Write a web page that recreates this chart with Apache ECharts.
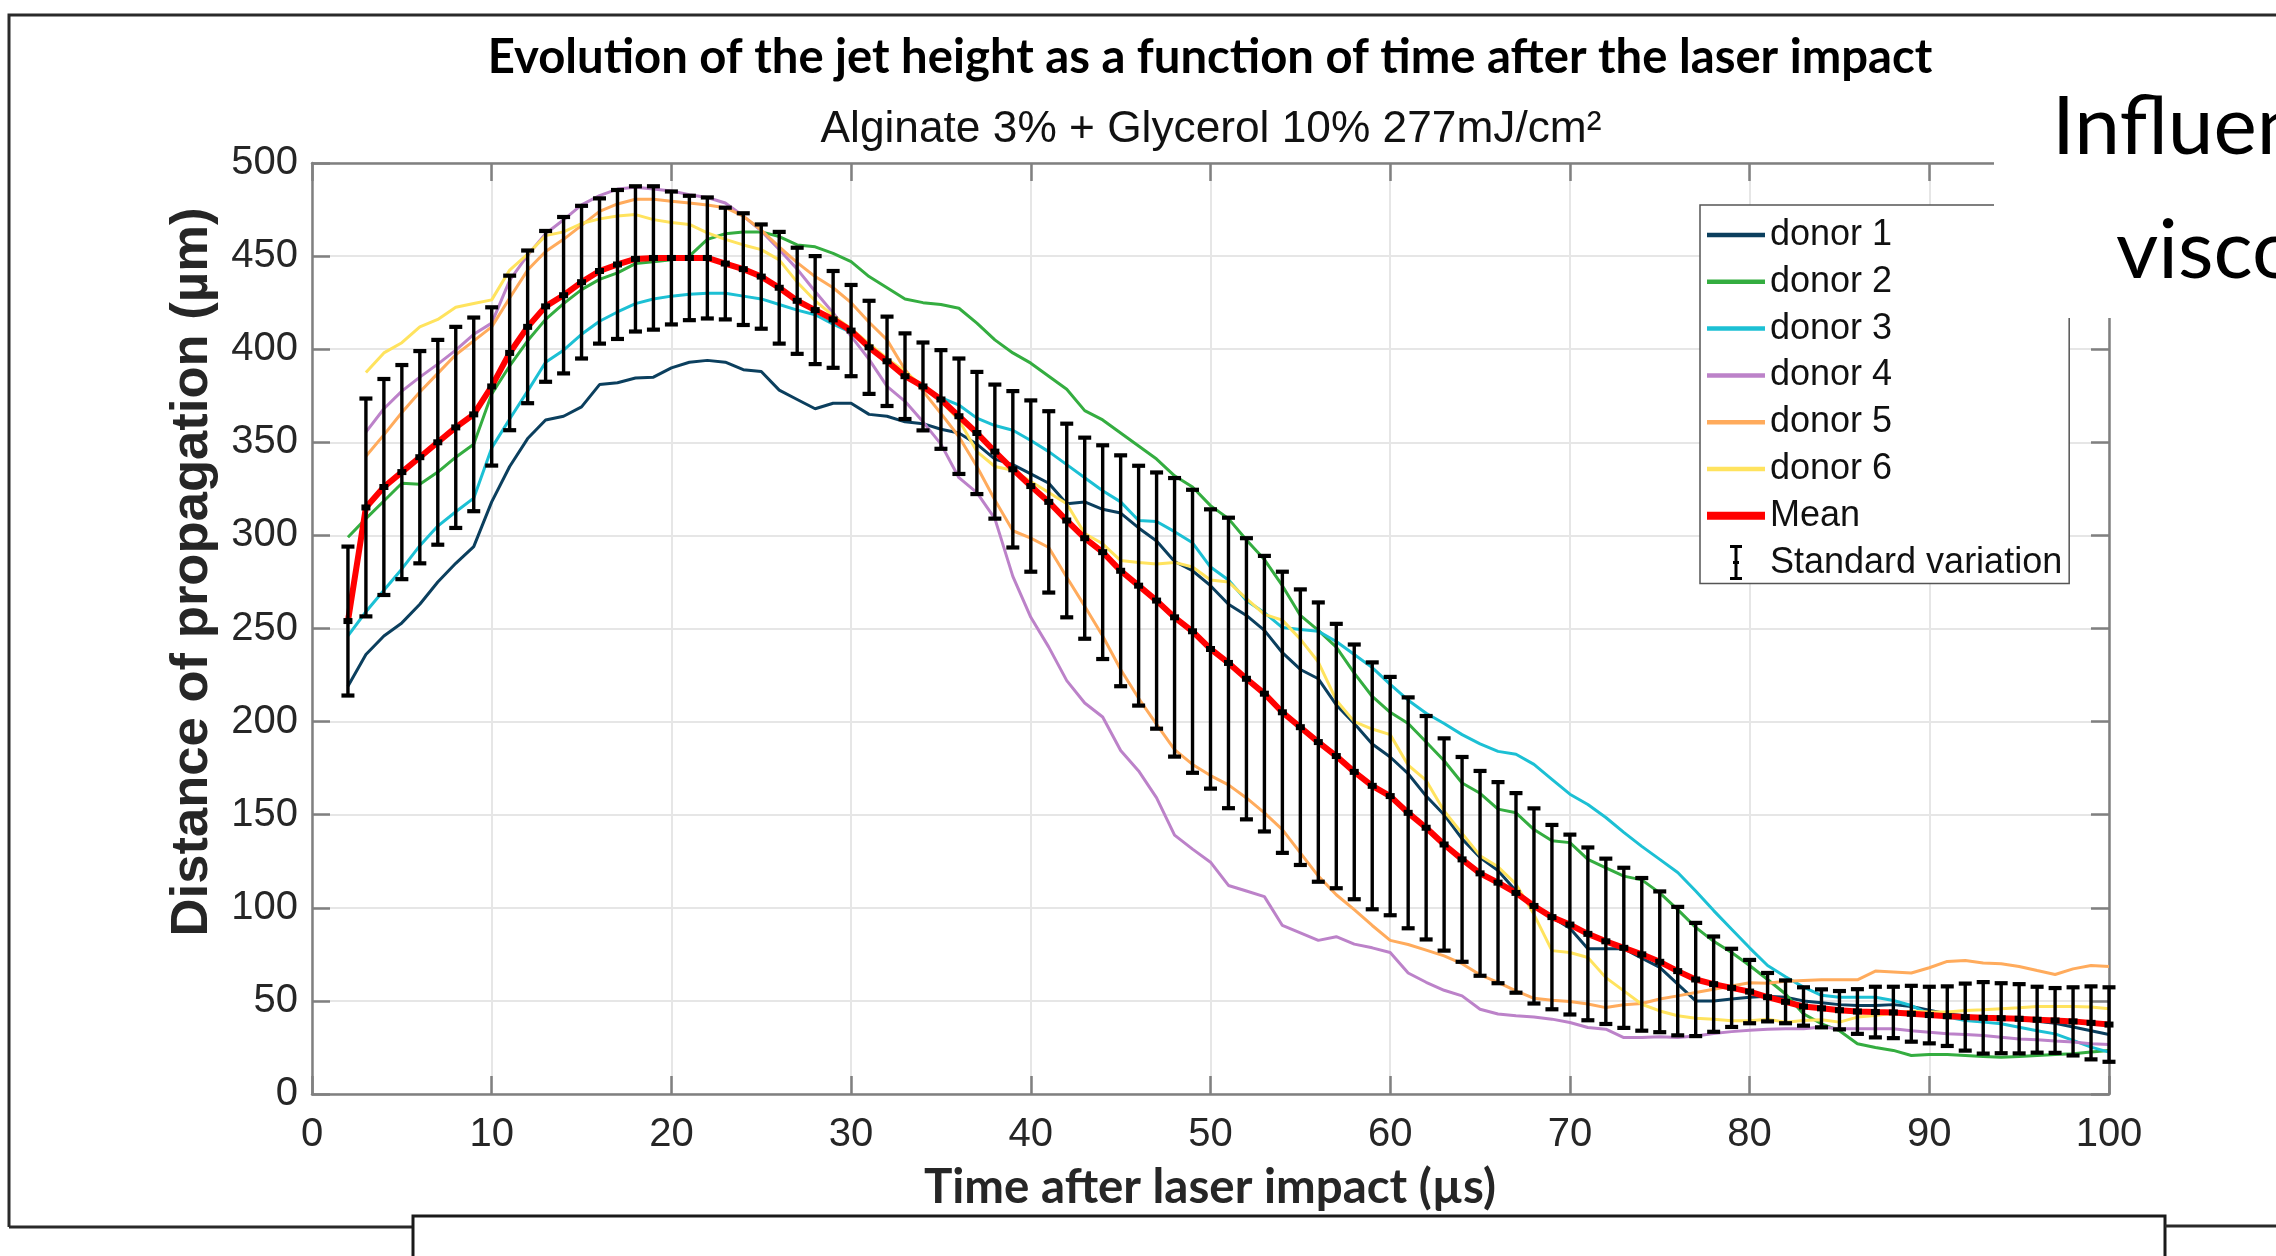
<!DOCTYPE html>
<html>
<head>
<meta charset="utf-8">
<script src="https://cdn.jsdelivr.net/npm/echarts@6/dist/echarts.min.js"></script>
<style>
html,body{margin:0;padding:0;background:#fff;}
#chart{width:2276px;height:1256px;}
</style>
</head>
<body>
<div id="chart"></div>
<script>
var titleText = 'Evolution of the jet height as a function of time after the laser impact';
var subtitleText = 'Alginate 3% + Glycerol 10% 277mJ/cm²';
var xAxisName = 'Time after laser impact (µs)';
var yAxisName = 'Distance of propagation (µm)';
var sideLine1 = 'Influence';
var sideLine2 = 'viscosity';
var xTicks = [0,10,20,30,40,50,60,70,80,90,100];
var yTicks = [0,50,100,150,200,250,300,350,400,450,500];

var times = [2,3,4,5,6,7,8,9,10,11,12,13,14,15,16,17,18,19,20,21,22,23,24,25,26,27,28,29,30,31,32,33,34,35,36,37,38,39,40,41,42,43,44,45,46,47,48,49,50,51,52,53,54,55,56,57,58,59,60,61,62,63,64,65,66,67,68,69,70,71,72,73,74,75,76,77,78,79,80,81,82,83,84,85,86,87,88,89,90,91,92,93,94,95,96,97,98,99,100];

var donor1 = [219,236,246,253,263,275,285,294,318,337,
352,362,364,369,381,382,384.5,385,390,393,
394,393,389,388,378,373,368,371,371,365,
364,361,360,357,355,349,341,338,333,328,
317,318,314,312,304,297,286,281,273,263,
257,249,237,228,223,209,199,188,181,172,
160,150,137,127,120,109,101,95,89,78,
78,78,73,68,59,50,50,51,52,52.5,
52,50,49,48,47.5,47.5,48,47,45,43,
42,41,40.5,40,39,38,36,34,32];

var donor2 = [299,309,318.5,328,327.5,334,342,349,376,391,
404.5,416,424.5,432,437.5,441,446,447,448,450,
459,462,463,463,460.5,456,455,451.5,447,439,
433,427,425,424,422,414,405,398,392.5,385.5,
378.5,367,362,355,348,341,332,326,316,309,
297.5,287,273,257,249,240,226,213.5,205,199,
189,179,167,161.5,153,151,142,136,135,126,
121.5,117,115,108,99,89.5,82,76,69,61.5,
53.7,43,37.7,34,27,25,23.4,20.7,21.2,21.2,
20.7,20.2,19.8,20.2,20.7,21.2,21.6,22.5,23.4];

var donor3 = [246,259,270.5,282,294.5,305,312.7,320,347,362.5,
377.5,393,399.5,408,415,420,424.5,427,428.5,429.5,
430,430,428.5,427,424,421,418.5,413.5,409,402.5,
394.5,386,380,374,370,363,359,356.5,351,345,
338,331,324,318,308,307.5,302,296,283,276,
265,258.5,250.5,249.5,248.5,243,236,229,220,211.5,
204.5,199,193,188,184,182.5,177,169,161,155.5,
148.5,140.5,133,126,119,109,98.5,88.5,78.5,69,
63,57.4,53,52,52,52,50.2,47.5,43,41.3,
39.5,38.6,37.7,35.9,34,32.3,28.8,25.2,22.5];

var donor4 = [null,355.5,368,377.5,385,392,399.5,408,414,437,
450.5,462,469.5,477.5,482.5,486,487,486,485,483,
481.5,478.5,471.5,463.5,453.5,443,431,419.5,407,394.5,
380,372,361,349,331,323,309,278,256,240,
222,210,202.5,184.5,173.5,159,139,131.5,124.5,112,
109,106,90.5,86.5,82.5,84.5,80.5,78.5,76,65,
60,55.7,52.7,45.5,43,42,41.4,40.2,38.4,35.7,
34.8,30.3,30.3,30.7,30.3,31.2,32.5,33.5,34.3,34.8,
35,35,36,35,35,35,35,34,33.2,32.3,
32,31.4,30.5,29.6,29.1,28.4,27.9,27,26.6];

var donor5 = [null,342.5,354,366,377,387,397,404.5,412,427.5,
442.5,452.5,459,466.5,474,478,480.5,480.5,479.5,478.5,
477.5,476,471.5,464,455,446.5,439,433,425,414.5,
405,389,377.5,365.5,353,337,319,302.5,298.5,293.5,
277.5,262,246,228,212.5,198.5,185,177,171,166,
159,151,142,129.5,117,107,99,90.5,82.5,80.3,
77.3,74.2,70,64,60,55.4,51.4,50.4,49.7,48.3,
46.4,47.9,48.6,51,52.7,54.5,56.3,58,59.8,59.5,
60.5,61,61.3,61.3,61.3,66,65.5,65,67.8,71.2,
71.7,70.3,70,68.5,66.3,64.2,67.2,69,68.5];

var donor6 = [null,387.5,398,403.5,412,416,422.5,424.5,426.5,442.5,
451,461,463,467.5,470,471.5,472.3,469.6,468,467,
462.5,459,456,453.5,448,436,426,418,411,403,
395,388,380,372,362,345,337,335,329,323,
317,301,295.5,286.5,285.5,284.6,285.5,283,276,275,
266,257.6,254.5,244.3,232,211.5,200,196,193,176.6,
168.4,152,140,128,122,112.7,96.5,77,76,73.3,
62.5,55.4,48.2,44.6,42,40.7,40.2,39.3,39.3,40.2,
38.5,39.5,39.9,38.6,41.3,42.2,43.4,44.5,44,44,
44.9,45.2,45.8,46.3,47,47,47,46.7,45.8];

var meanValues = [254,315,326,334,342,350,358,365,380,398,
412,423,429,436,442,445.5,448.5,449,449,449,
449,446,443,439,433,426,421,416,410,401,
393.5,385.5,380,373,364,355,345,335.5,326.5,318,
308,298.5,291,281,273,265,256,248.5,239,231.5,
223,215,205,197,189,181.5,173,165.5,160,151,
143,134,126,118.5,113.5,108,101,95,91,86,
82,78.5,75,71,66,61.5,59,57,55,52,
49.5,47,46,45,44.3,44,43.8,43.1,42.4,41.8,
41.3,40.9,40.7,40.4,39.9,39.5,39,38.2,37.3];

var stdValues = [40,58.5,58,57.5,57,55,54,52,42.5,41.5,
41,40.5,42,41,39,40,39,38.5,35.7,33.4,
32.5,30,30,28,30,28.5,29,26,24.5,25,
24,23,23.6,26.5,31,32.8,36,42,46,48.7,
52,54,57.4,62,64.4,68.8,74.8,76,75,78,
75.5,74,75.5,74,75,71,68.4,66.3,64,62,
60,57,55,55,54,53.6,52.4,49.5,48.3,46.4,
44.4,43,41,37.8,34.5,30.4,25.6,21,17,13,
11.5,10.3,10.2,10.3,12,13.6,13.8,15,15.2,16,
18,19.2,18.8,18.6,17.7,17.4,18.3,19.6,20];

var donorNames = ['donor 1','donor 2','donor 3','donor 4','donor 5','donor 6'];
var donorColors = ['#0b3f5e','#34ad40','#1cc0d4','#bc82c9','#ffab5c','#ffe35e'];
var donorData = [donor1, donor2, donor3, donor4, donor5, donor6];

function pairs(vals){
  var out = [];
  for (var i = 0; i < times.length; i++) {
    if (vals[i] !== null && vals[i] !== undefined) out.push([times[i], vals[i]]);
  }
  return out;
}
function fitSize(text, weight, family, target){
  var c = document.createElement('canvas').getContext('2d');
  c.font = weight + ' 100px ' + family;
  return 100 * target / c.measureText(text).width;
}

var errData = [];
for (var i = 0; i < times.length; i++) {
  errData.push([times[i], meanValues[i] - stdValues[i], meanValues[i] + stdValues[i], meanValues[i]]);
}

var FONT_AX = '"Liberation Sans", Arial, sans-serif';
var FONT_CAL = 'Lato, "Noto Sans", sans-serif';

var series = [];
for (var d = 0; d < 6; d++) {
  series.push({
    name: donorNames[d], type: 'line', data: pairs(donorData[d]),
    symbol: 'none', showSymbol: false, z: 2,
    lineStyle: {color: donorColors[d], width: 3},
    itemStyle: {color: donorColors[d]}
  });
}
series.push({
  name: 'Mean', type: 'line', data: pairs(meanValues),
  symbol: 'none', showSymbol: false, z: 3,
  lineStyle: {color: '#ff0000', width: 6},
  itemStyle: {color: '#ff0000'}
});
series.push({
  name: 'Standard variation', type: 'custom', z: 4,
  itemStyle: {color: '#000'},
  data: errData,
  encode: {x: 0, y: [1, 2]},
  renderItem: function(params, api){
    var x = api.value(0);
    var lo = api.coord([x, api.value(1)]);
    var hi = api.coord([x, api.value(2)]);
    var mid = api.coord([x, api.value(3)]);
    var cw = 6.5;
    var st = {stroke: '#000', lineWidth: 3.4};
    var cst = {stroke: '#000', lineWidth: 4.2};
    return {type: 'group', children: [
      {type: 'line', shape: {x1: hi[0], y1: hi[1], x2: lo[0], y2: lo[1]}, style: st},
      {type: 'line', shape: {x1: hi[0]-cw, y1: hi[1], x2: hi[0]+cw, y2: hi[1]}, style: cst},
      {type: 'line', shape: {x1: lo[0]-cw, y1: lo[1], x2: lo[0]+cw, y2: lo[1]}, style: cst},
      {type: 'rect', shape: {x: mid[0]-4.5, y: mid[1]-3, width: 9, height: 6}, style: {fill: '#000'}}
    ]};
  }
});

var axisCommon = {
  type: 'value', min: 0,
  axisLine: {show: true, onZero: false, lineStyle: {color: '#808080', width: 2.5}},
  axisTick: {show: true, inside: true, length: 18, lineStyle: {color: '#808080', width: 2.5}},
};
var tickLabel = {fontSize: 40, color: '#262626', fontFamily: FONT_AX};

var titleSize = fitSize(titleText, 'bold', FONT_CAL, 1445);
var subSize = fitSize(subtitleText, 'normal', FONT_AX, 781);
var xNameSize = fitSize(xAxisName, 'bold', FONT_CAL, 572);
var yNameSize = fitSize(yAxisName, 'bold', FONT_AX, 729);

var lineIcon = 'path://M0,0H58V4.5H0Z';
var meanIcon = 'path://M0,0H58V8H0Z';
var legendData = donorNames.map(function(n){ return {name: n, icon: lineIcon}; });
legendData.push({name: 'Mean', icon: meanIcon});
legendData.push({name: 'Standard variation', icon: 'path://M0,0H12V3H7.5V16H9V19H7.5V32H12V35H0V32H4.5V19H3V16H4.5V3H0Z'});

var option = {
  animation: false,
  backgroundColor: '#ffffff',
  grid: {left: 312, top: 163, width: 1797, height: 931, containLabel: false},
  xAxis: [
    Object.assign({}, axisCommon, {max: 100, interval: 10, position: 'bottom',
      axisLabel: Object.assign({margin: 21, formatter: function(v){ return xTicks.indexOf(v) >= 0 ? String(v) : ''; }}, tickLabel),
      splitLine: {show: true, lineStyle: {color: '#e6e6e6', width: 2}}}),
    Object.assign({}, axisCommon, {max: 100, interval: 10, position: 'top',
      axisLabel: {show: false}, splitLine: {show: false}})
  ],
  yAxis: [
    Object.assign({}, axisCommon, {max: 500, interval: 50, position: 'left',
      axisLabel: Object.assign({margin: 14, formatter: function(v){ return yTicks.indexOf(v) >= 0 ? String(v) : ''; }}, tickLabel),
      splitLine: {show: true, lineStyle: {color: '#e6e6e6', width: 2}}}),
    Object.assign({}, axisCommon, {max: 500, interval: 50, position: 'right',
      axisLabel: {show: false}, splitLine: {show: false}})
  ],
  legend: {
    orient: 'vertical', left: 1700, top: 205,
    padding: [12, 7, 3, 7],
    itemWidth: 58, itemHeight: 35, itemGap: 10.8,
    selectedMode: false,
    backgroundColor: '#ffffff',
    borderColor: '#555555', borderWidth: 1.5, borderRadius: 0,
    textStyle: {fontSize: 36, fontFamily: FONT_AX, color: '#111', padding: [0,0,0,0]},
    data: legendData
  },
  series: series,
  graphic: {elements: [
    {type: 'polyline', z: 50, shape: {points: [[9,1227],[9,15],[2276,15]]}, style: {stroke: '#2a2a2a', lineWidth: 3, fill: null}},
    {type: 'line', z: 50, shape: {x1: 9, y1: 1227, x2: 413, y2: 1227}, style: {stroke: '#2a2a2a', lineWidth: 3}},
    {type: 'rect', z: 50, shape: {x: 413, y: 1216, width: 1752, height: 80}, style: {fill: '#fff', stroke: '#1a1a1a', lineWidth: 3}},
    {type: 'line', z: 50, shape: {x1: 2165, y1: 1226, x2: 2276, y2: 1226}, style: {stroke: '#2a2a2a', lineWidth: 3}},
    {type: 'rect', z: 100, shape: {x: 1994, y: 18, width: 290, height: 300}, style: {fill: '#ffffff'}},
    {type: 'text', z: 101, x: 2052, y: 128, style: {text: sideLine1, fontSize: 82, fontFamily: FONT_CAL, fill: '#000', align: 'left', verticalAlign: 'middle', textAlign: 'left', textVerticalAlign: 'middle'}},
    {type: 'text', z: 101, x: 2116, y: 252, style: {text: sideLine2, fontSize: 82, fontFamily: FONT_CAL, fill: '#000', align: 'left', verticalAlign: 'middle', textAlign: 'left', textVerticalAlign: 'middle'}},
    {type: 'text', z: 60, x: 1210, y: 58, style: {text: titleText, fontSize: titleSize, fontWeight: 'bold', fontFamily: FONT_CAL, fill: '#000', align: 'center', verticalAlign: 'middle', textAlign: 'center', textVerticalAlign: 'middle'}},
    {type: 'text', z: 60, x: 1211, y: 130, style: {text: subtitleText, fontSize: subSize, fontFamily: FONT_AX, fill: '#111', align: 'center', verticalAlign: 'middle', textAlign: 'center', textVerticalAlign: 'middle'}},
    {type: 'text', z: 60, x: 1210, y: 1188, style: {text: xAxisName, fontSize: xNameSize, fontWeight: 'bold', fontFamily: FONT_CAL, fill: '#262626', align: 'center', verticalAlign: 'middle', textAlign: 'center', textVerticalAlign: 'middle'}},
    {type: 'text', z: 60, x: 192, y: 572, rotation: Math.PI/2, style: {text: yAxisName, fontSize: yNameSize, fontWeight: 'bold', fontFamily: FONT_AX, fill: '#262626', align: 'center', verticalAlign: 'middle', textAlign: 'center', textVerticalAlign: 'middle'}}
  ]}
};

var chart = echarts.init(document.getElementById('chart'), null, {renderer: 'canvas', width: 2276, height: 1256});
chart.setOption(option);
</script>
</body>
</html>
